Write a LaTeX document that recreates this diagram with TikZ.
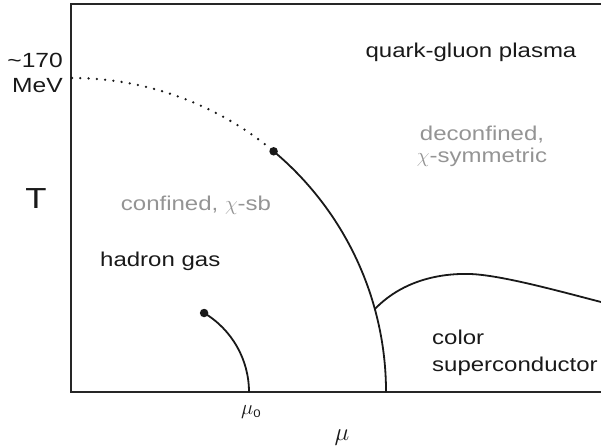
\documentclass[tikz,border=0pt]{standalone}
\usepackage{fontspec}
\setmainfont{Liberation Sans}[FakeStretch=1.2]
\begin{document}
\begin{tikzpicture}[x=1pt,y=1pt]
\tikzset{
  axisline/.style={line width=2.4pt, draw=black!85, line join=miter},
  curve/.style={line width=1.8pt, draw=black!90},
  dotline/.style={line width=2.6pt, draw=black!90, line cap=round, dash pattern=on 0pt off 8.3pt},
  cpdot/.style={circle, fill=black!90, inner sep=0pt, minimum size=8.5pt},
  lbl/.style={text=black!90, inner sep=0pt, font=\fontsize{20}{24}\selectfont},
  glbl/.style={text=black!42, inner sep=0pt, font=\fontsize{20}{22.5}\selectfont},
}
\useasboundingbox (0,0) rectangle (601,-446);
% axes
\coordinate (tr) at (601,-4);
\coordinate (tl) at (71,-4);
\coordinate (bl) at (71,-392);
\coordinate (br) at (601,-392);
\draw[axisline] (tr) -- (tl) -- (bl) -- (br);
% main phase boundary: circle arc centred at origin corner
\coordinate (top) at (72,-78);
\node[cpdot] (cp1) at (273.6,-151.3) {};
\coordinate (mu1) at (386,-392);
\coordinate (bp) at (374.9,-309);
\draw[dotline] (top) arc (90:50.06:314);
\draw[curve] (cp1.center) arc (50.06:0:314);
% hadron gas - nuclear matter line
\node[cpdot] (cp2) at (204.1,-313) {};
\coordinate (mu0) at (249,-392);
\draw[curve] (cp2.center) arc (59.2:0:92);
% color superconductor boundary
\coordinate (peak) at (470,-274);
\coordinate (rend) at (601,-302);
\draw[curve] (bp) .. controls (400,-283) and (435,-273) .. (peak)
  .. controls (500,-275) and (555,-290) .. (rend);
% labels
\node[lbl, anchor=base east, align=right, font=\fontsize{20.5}{25}\selectfont] (tc) at (63,-93) {\textasciitilde170\\MeV};
\node[lbl, anchor=base, font=\fontsize{29}{30}\selectfont] (T) at (36,-208) {T};
\node[lbl, anchor=base] (qgp) at (471,-58) {quark-gluon plasma};
\node[glbl, anchor=base, align=center] (dec) at (482,-163) {deconfined,\\$\chi$-symmetric};
\node[glbl, anchor=base] (conf) at (196,-210) {confined, $\chi$-sb};
\node[lbl, anchor=base west] (hg) at (100,-266) {hadron gas};
\node[lbl, anchor=base west, align=left, font=\fontsize{20}{27}\selectfont] (csc) at (432,-371) {color\\superconductor};
\node[lbl, anchor=base, font=\fontsize{22}{24}\selectfont] (m0) at (251,-414) {$\mu$\raisebox{-3pt}{\fontsize{11}{11}\selectfont 0}};
\node[lbl, anchor=base, font=\fontsize{29}{30}\selectfont] (m) at (342,-440) {$\mu$};
\end{tikzpicture}
\end{document}
